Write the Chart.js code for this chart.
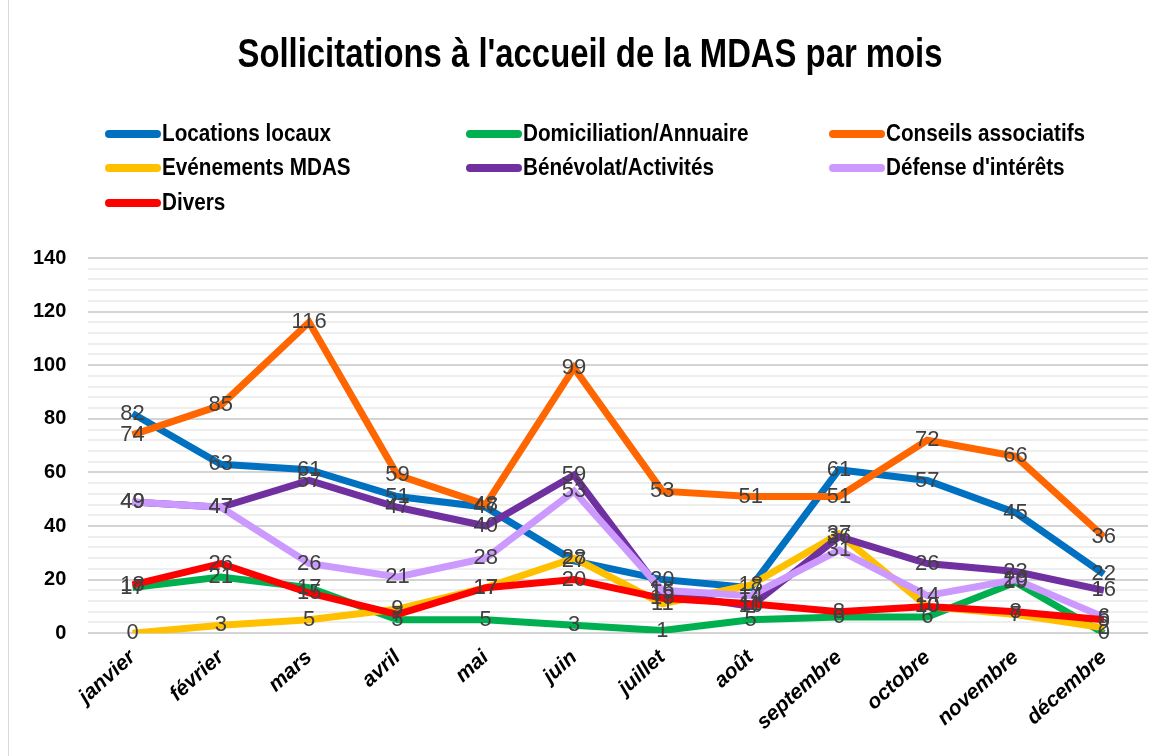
<!DOCTYPE html>
<html>
<head>
<meta charset="utf-8">
<script src="https://cdn.jsdelivr.net/npm/chart.js@4"></script>
<style>
  html, body { margin: 0; padding: 0; background: #fff; }
  #wrap { position: relative; width: 1157px; height: 756px; }
</style>
</head>
<body>
<div id="wrap"><canvas id="chart" width="1157" height="756"></canvas></div>
<script>
// data
var months = ['janvier', 'février', 'mars', 'avril', 'mai', 'juin', 'juillet', 'août', 'septembre', 'octobre', 'novembre', 'décembre'];
var seriesNames = ['Locations locaux', 'Domiciliation/Annuaire', 'Conseils associatifs', 'Evénements MDAS', 'Bénévolat/Activités', "Défense d'intérêts", 'Divers'];
var seriesColors = ['#0070C0', '#00B050', '#FF6600', '#FFC000', '#7030A0', '#CC99FF', '#FF0000'];

var locations = [82, 63, 61, 51, 47, 27, 20, 17, 61, 57, 45, 22];
var domiciliation = [17, 21, 17, 5, 5, 3, 1, 5, 6, 6, 19, 0];
var conseils = [74, 85, 116, 59, 48, 99, 53, 51, 51, 72, 66, 36];
var evenements = [0, 3, 5, 9, 17, 28, 11, 18, 37, 10, 7, 2];
var benevolat = [49, 47, 57, 47, 40, 59, 15, 10, 36, 26, 23, 16];
var defense = [49, 47, 26, 21, 28, 53, 16, 14, 31, 14, 20, 6];
var divers = [18, 26, 15, 7, 17, 20, 13, 11, 8, 10, 8, 5];

var allSeries = [locations, domiciliation, conseils, evenements, benevolat, defense, divers];
var yTicks = [0, 20, 40, 60, 80, 100, 120, 140];

var datasets = [];
for (var i = 0; i < allSeries.length; i++) {
  datasets.push({
    label: seriesNames[i],
    data: allSeries[i],
    borderColor: seriesColors[i],
    backgroundColor: seriesColors[i],
    borderWidth: 7,
    pointRadius: 0,
    tension: 0,
    order: allSeries.length - i // later series on top, like the original
  });
}

// title, legend in three columns, frame line
var decorPlugin = {
  id: 'decor',
  beforeDraw: function(chart) {
    var ctx = chart.ctx;
    ctx.save();
    ctx.fillStyle = '#fff';
    ctx.fillRect(0, 0, chart.width, chart.height);
    ctx.strokeStyle = '#d9d9d9';
    ctx.lineWidth = 1;
    ctx.beginPath();
    ctx.moveTo(8.5, 0);
    ctx.lineTo(8.5, chart.height);
    ctx.stroke();
    ctx.restore();
  },
  afterDraw: function(chart) {
    var ctx = chart.ctx;
    ctx.save();
    // title squeezed a little to look like the narrow original font
    var title = "Sollicitations à l'accueil de la MDAS par mois";
    ctx.font = 'bold 40px "Liberation Sans", Arial, sans-serif';
    ctx.fillStyle = '#000';
    ctx.textBaseline = 'middle';
    var tw = ctx.measureText(title).width;
    var sx = 705 / tw;
    ctx.translate(590, 56);
    ctx.scale(sx, 1);
    ctx.textAlign = 'center';
    ctx.fillText(title, 0, 0);
    ctx.restore();

    // legend
    var colX = [105, 466, 829];
    var rowY = [134, 168, 203];
    ctx.save();
    ctx.font = 'bold 23px "Liberation Sans", Arial, sans-serif';
    ctx.textBaseline = 'middle';
    ctx.lineCap = 'round';
    for (var k = 0; k < seriesNames.length; k++) {
      var cx = colX[k % 3];
      var cy = rowY[Math.floor(k / 3)];
      ctx.strokeStyle = seriesColors[k];
      ctx.lineWidth = 8;
      ctx.beginPath();
      ctx.moveTo(cx + 4, cy);
      ctx.lineTo(cx + 52, cy);
      ctx.stroke();
      ctx.save();
      ctx.translate(cx + 57, cy + 1);
      ctx.scale(0.9, 1);
      ctx.fillStyle = '#000';
      ctx.textAlign = 'left';
      ctx.fillText(seriesNames[k], 0, 0);
      ctx.restore();
    }
    ctx.restore();
  },
  afterDatasetsDraw: function(chart) {
    // value labels centred on each point
    var ctx = chart.ctx;
    ctx.save();
    ctx.font = '22px "Liberation Sans", Arial, sans-serif';
    ctx.fillStyle = '#404040';
    ctx.textAlign = 'center';
    ctx.textBaseline = 'middle';
    for (var d = 0; d < chart.data.datasets.length; d++) {
      var meta = chart.getDatasetMeta(d);
      var vals = chart.data.datasets[d].data;
      for (var p = 0; p < meta.data.length; p++) {
        if (vals[p] == null) continue;
        var el = meta.data[p];
        ctx.fillText(String(vals[p]), el.x, el.y);
      }
    }
    ctx.restore();
  }
};

var chart = new Chart(document.getElementById('chart'), {
  type: 'line',
  data: { labels: months, datasets: datasets },
  options: {
    responsive: false,
    animation: false,
    layout: { padding: { top: 258, left: 11, right: 9, bottom: 9 } },
    plugins: {
      legend: { display: false },
      title: { display: false },
      tooltip: { enabled: false }
    },
    scales: {
      x: {
        offset: true,
        grid: { display: false, drawTicks: false },
        border: { display: false },
        ticks: {
          minRotation: 42,
          maxRotation: 42,
          autoSkip: false,
          color: '#000',
          padding: 12,
          font: { family: '"Liberation Sans", Arial, sans-serif', size: 21, weight: 'bold', style: 'italic' }
        }
      },
      y: {
        min: 0,
        max: 140,
        border: { display: false },
        grid: {
          drawTicks: false,
          color: function(c) { return (c.tick && c.tick.value % 20 === 0) ? '#d4d4d4' : '#eeeeee'; },
          lineWidth: 2
        },
        ticks: {
          stepSize: 4,
          autoSkip: false,
          padding: 22,
          color: '#000',
          font: { family: '"Liberation Sans", Arial, sans-serif', size: 20, weight: 'bold' },
          callback: function(v) { return yTicks.indexOf(v) >= 0 ? String(v) : ''; }
        }
      }
    }
  },
  plugins: [decorPlugin]
});
</script>
</body>
</html>
